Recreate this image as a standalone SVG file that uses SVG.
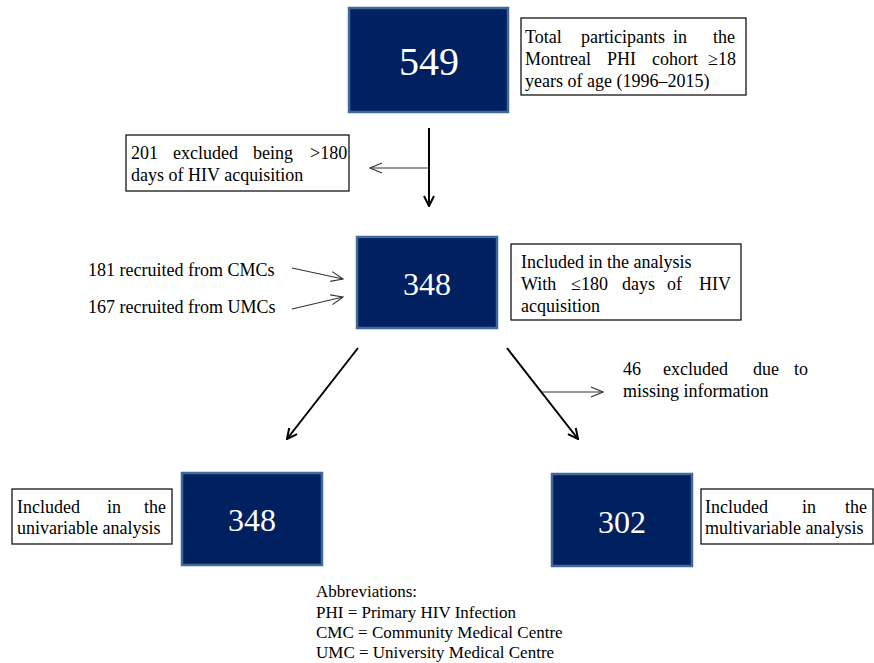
<svg xmlns="http://www.w3.org/2000/svg" width="874" height="663" viewBox="0 0 874 663">
<defs>
<style>
.num{fill:#002060;stroke:#41699a;stroke-width:2.5}
.box{fill:#fff;stroke:#000;stroke-width:1.2}
.t{font-size:18px;fill:#000}
.ab{font-size:17px;fill:#000}
.big{fill:#fff;text-anchor:middle}
.main{stroke:#000;stroke-width:2;fill:none}
.thin{stroke:#333;stroke-width:1.1;fill:none}
</style>
<marker id="ah" viewBox="0 0 12 12" refX="11" refY="6" markerWidth="12" markerHeight="12" markerUnits="userSpaceOnUse" orient="auto">
<path d="M1,1 L11,6 L1,11" fill="none" stroke="#000" stroke-width="2"/>
</marker>
<marker id="ahs" viewBox="0 0 14 12" refX="13" refY="6" markerWidth="14" markerHeight="12" markerUnits="userSpaceOnUse" orient="auto">
<path d="M1,1 L13,6 L1,11" fill="none" stroke="#333" stroke-width="1.1"/>
</marker>
</defs>
<rect width="874" height="663" fill="#fff"/>

<g id="connectors">
<line class="main" x1="429" y1="128" x2="429" y2="206" marker-end="url(#ah)"/>
<line class="thin" x1="429" y1="168" x2="370" y2="168" marker-end="url(#ahs)"/>
<line class="thin" x1="292" y1="268" x2="343" y2="279" marker-end="url(#ahs)"/>
<line class="thin" x1="292" y1="309" x2="343" y2="297" marker-end="url(#ahs)"/>
<line class="main" x1="358" y1="348" x2="287" y2="439" marker-end="url(#ah)"/>
<line class="main" x1="507" y1="348" x2="578" y2="439" marker-end="url(#ah)"/>
<line class="thin" x1="542" y1="392" x2="603" y2="392" marker-end="url(#ahs)"/>
</g>

<g id="n549">
<rect class="num" x="349" y="8" width="159" height="104"/>
<text class="big" font-family="Liberation Serif, serif" x="429" y="75" font-size="40">549</text>
</g>
<g id="total">
<rect class="box" x="521" y="18" width="225" height="77"/>
<text class="t" font-family="Liberation Serif, serif" y="43"><tspan x="525">Total</tspan><tspan x="581">participants</tspan><tspan x="673">in</tspan><tspan x="713">the</tspan></text>
<text class="t" font-family="Liberation Serif, serif" y="65"><tspan x="525">Montreal</tspan><tspan x="607">PHI</tspan><tspan x="652">cohort</tspan><tspan x="708">≥18</tspan></text>
<text class="t" font-family="Liberation Serif, serif" x="525" y="87">years of age (1996–2015)</text>
</g>

<g id="excluded201">
<rect class="box" x="126" y="135" width="223" height="56"/>
<text class="t" font-family="Liberation Serif, serif" y="159"><tspan x="131">201</tspan><tspan x="173">excluded</tspan><tspan x="253">being</tspan><tspan x="310">&gt;180</tspan></text>
<text class="t" font-family="Liberation Serif, serif" x="131" y="181">days of HIV acquisition</text>
</g>

<g id="cmc"><text class="t" font-family="Liberation Serif, serif" x="88" y="276">181 recruited from CMCs</text></g>
<g id="umc"><text class="t" font-family="Liberation Serif, serif" x="88" y="313">167 recruited from UMCs</text></g>

<g id="n348">
<rect class="num" x="357" y="237" width="140" height="91"/>
<text class="big" font-family="Liberation Serif, serif" x="427" y="295" font-size="32">348</text>
</g>
<g id="included">
<rect class="box" x="511" y="244" width="230" height="76"/>
<text class="t" font-family="Liberation Serif, serif" x="521" y="268">Included in the analysis</text>
<text class="t" font-family="Liberation Serif, serif" y="290"><tspan x="521">With</tspan><tspan x="571">≤180</tspan><tspan x="622">days</tspan><tspan x="667">of</tspan><tspan x="699">HIV</tspan></text>
<text class="t" font-family="Liberation Serif, serif" x="521" y="312">acquisition</text>
</g>

<g id="excluded46">
<text class="t" font-family="Liberation Serif, serif" y="375"><tspan x="623">46</tspan><tspan x="663">excluded</tspan><tspan x="753">due</tspan><tspan x="794">to</tspan></text>
<text class="t" font-family="Liberation Serif, serif" x="623" y="397">missing information</text>
</g>

<g id="uni">
<rect class="box" x="12" y="489" width="160" height="55"/>
<text class="t" font-family="Liberation Serif, serif" y="513"><tspan x="17">Included</tspan><tspan x="107">in</tspan><tspan x="144">the</tspan></text>
<text class="t" font-family="Liberation Serif, serif" x="17" y="534">univariable analysis</text>
</g>
<g id="n348b">
<rect class="num" x="182" y="473" width="140" height="92"/>
<text class="big" font-family="Liberation Serif, serif" x="252" y="531" font-size="32">348</text>
</g>

<g id="n302">
<rect class="num" x="552" y="474" width="140" height="92"/>
<text class="big" font-family="Liberation Serif, serif" x="622" y="533" font-size="32">302</text>
</g>
<g id="multi">
<rect class="box" x="701" y="489" width="172" height="55"/>
<text class="t" font-family="Liberation Serif, serif" y="513"><tspan x="705">Included</tspan><tspan x="802">in</tspan><tspan x="845">the</tspan></text>
<text class="t" font-family="Liberation Serif, serif" x="705" y="534">multivariable analysis</text>
</g>

<g id="abbrev">
<text class="ab" font-family="Liberation Serif, serif" x="316" y="597">Abbreviations:</text>
<text class="ab" font-family="Liberation Serif, serif" x="316" y="618">PHI = Primary HIV Infection</text>
<text class="ab" font-family="Liberation Serif, serif" x="316" y="638">CMC = Community Medical Centre</text>
<text class="ab" font-family="Liberation Serif, serif" x="316" y="658">UMC = University Medical Centre</text>
</g>
</svg>
